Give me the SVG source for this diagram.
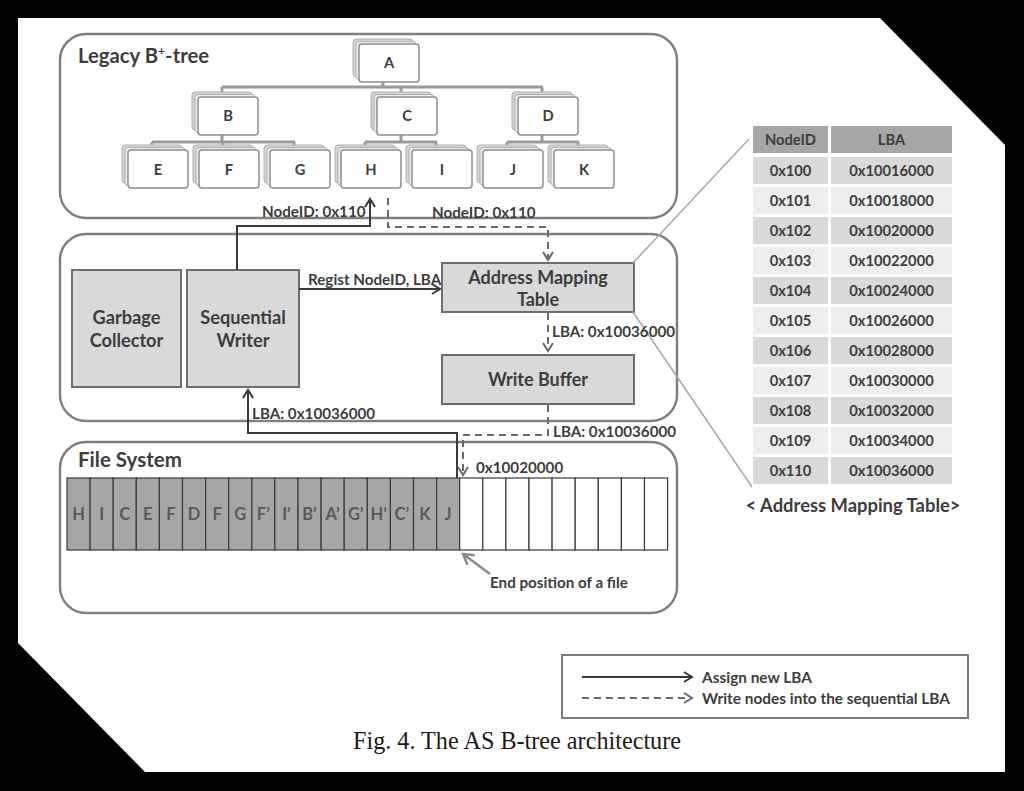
<svg xmlns="http://www.w3.org/2000/svg" width="1024" height="791" viewBox="0 0 1024 791">
<defs>
<style>
.t{font-family:Lato,"Liberation Sans",sans-serif;font-weight:bold;fill:#3d3d3d}
.panel{fill:none;stroke:#7f7f7f;stroke-width:2.5}
.box{fill:#d9d9d9;stroke:#6e6e6e;stroke-width:2}
.solid{fill:none;stroke:#3a3a3a;stroke-width:2}
.dash{fill:none;stroke:#6a6a6a;stroke-width:2;stroke-dasharray:7 5}
.tree{fill:none;stroke:#9a9a9a;stroke-width:3}
.cellg{fill:#a6a6a6;stroke:#3a3a3a;stroke-width:1.2}
.cellw{fill:#fff;stroke:#3a3a3a;stroke-width:1.2}
.ct{font-family:Lato,"Liberation Sans",sans-serif;font-weight:bold;font-size:16.5px;fill:#5a5a5a;text-anchor:middle}
.th{fill:#a6a6a6}
.rd{fill:#d9d9d9}
.rl{fill:#ededed}
.tt{font-family:Lato,"Liberation Sans",sans-serif;font-weight:bold;font-size:14.7px;fill:#3d3d3d;text-anchor:middle}
.lb{font-size:15.2px}
</style>
<marker id="ah" markerWidth="12" markerHeight="12" refX="10" refY="6" orient="auto" markerUnits="userSpaceOnUse">
<path d="M2,1 L10,6 L2,11" fill="none" stroke="#3a3a3a" stroke-width="2"/>
</marker>
<marker id="ahd" markerWidth="12" markerHeight="12" refX="10" refY="6" orient="auto" markerUnits="userSpaceOnUse">
<path d="M2,1 L10,6 L2,11" fill="none" stroke="#6a6a6a" stroke-width="2"/>
</marker>
<marker id="ahg" markerWidth="14" markerHeight="14" refX="12" refY="7" orient="auto" markerUnits="userSpaceOnUse">
<path d="M2,1 L12,7 L2,13" fill="none" stroke="#8a8a8a" stroke-width="2.5"/>
</marker>
<g id="card">
<rect x="-6" y="-5" width="60" height="38" rx="3" fill="#d4d4d4" stroke="#b0b0b0" stroke-width="1"/>
<rect x="-3" y="-2.5" width="60" height="38" rx="3" fill="#ececec" stroke="#b0b0b0" stroke-width="1"/>
<rect x="0" y="0" width="60" height="38" rx="3" fill="#fff" stroke="#8f8f8f" stroke-width="1.5"/>
</g>
</defs>

<rect x="0" y="0" width="1024" height="791" fill="#000"/>
<polygon points="18,18 880,18 1005,145 1005,772 145,772 18,643" fill="#fff"/>

<g id="panels">
<rect class="panel" x="60" y="34" width="617" height="184" rx="26"/>
<rect class="panel" x="60" y="234" width="617" height="187" rx="26"/>
<rect class="panel" x="60" y="442" width="617" height="171" rx="26"/>
<text class="t" x="78" y="63" font-size="20.3">Legacy B<tspan font-size="12" dy="-8">+</tspan><tspan dy="8">-tree</tspan></text>
<text class="t" x="78" y="467" font-size="20.5">File System</text>
</g>

<g id="tree-links">
<path class="tree" d="M383,80 V87 M222,87 H543 M222,87 V93 M401,87 V93 M542,87 V93"/>
<path class="tree" d="M222,133 V142 M152,142 H295 M152,142 V146 M223,142 V146 M294,142 V146"/>
<path class="tree" d="M401,133 V142 M365,142 H437 M365,142 V146 M436,142 V146"/>
<path class="tree" d="M542,133 V142 M507,142 H579 M507,142 V146 M578,142 V146"/>
</g>

<g id="node-A"><use href="#card" x="359" y="44"/><text class="tt" x="389" y="68">A</text></g>
<g id="node-B"><use href="#card" x="198" y="97"/><text class="tt" x="228" y="121">B</text></g>
<g id="node-C"><use href="#card" x="377" y="97"/><text class="tt" x="407" y="121">C</text></g>
<g id="node-D"><use href="#card" x="518" y="97"/><text class="tt" x="548" y="121">D</text></g>
<g id="node-E"><use href="#card" x="128" y="150"/><text class="tt" x="158" y="175">E</text></g>
<g id="node-F"><use href="#card" x="199" y="150"/><text class="tt" x="229" y="175">F</text></g>
<g id="node-G"><use href="#card" x="270" y="150"/><text class="tt" x="300" y="175">G</text></g>
<g id="node-H"><use href="#card" x="341" y="150"/><text class="tt" x="371" y="175">H</text></g>
<g id="node-I"><use href="#card" x="412" y="150"/><text class="tt" x="442" y="175">I</text></g>
<g id="node-J"><use href="#card" x="483" y="150"/><text class="tt" x="513" y="175">J</text></g>
<g id="node-K"><use href="#card" x="554" y="150"/><text class="tt" x="584" y="175">K</text></g>

<g id="garbage-collector">
<rect class="box" x="72" y="270" width="109" height="117"/>
<text class="t" x="126.5" y="324" font-size="18.2" text-anchor="middle">Garbage</text>
<text class="t" x="126.5" y="347" font-size="18.2" text-anchor="middle">Collector</text>
</g>
<g id="sequential-writer">
<rect class="box" x="187" y="270" width="112" height="117"/>
<text class="t" x="243" y="324" font-size="18.2" text-anchor="middle">Sequential</text>
<text class="t" x="243" y="347" font-size="18.2" text-anchor="middle">Writer</text>
</g>
<g id="address-mapping-table">
<rect class="box" x="442" y="263" width="192" height="49"/>
<text class="t" x="538" y="284" font-size="18" text-anchor="middle">Address Mapping</text>
<text class="t" x="538" y="306" font-size="18" text-anchor="middle">Table</text>
</g>
<g id="write-buffer">
<rect class="box" x="442" y="355" width="192" height="49"/>
<text class="t" x="538" y="386" font-size="18" text-anchor="middle">Write Buffer</text>
</g>

<g id="file-cells">
<rect class="cellg" x="67" y="478" width="23.1" height="72"/>
<rect class="cellg" x="90.1" y="478" width="23.1" height="72"/>
<rect class="cellg" x="113.2" y="478" width="23.1" height="72"/>
<rect class="cellg" x="136.3" y="478" width="23.1" height="72"/>
<rect class="cellg" x="159.4" y="478" width="23.1" height="72"/>
<rect class="cellg" x="182.5" y="478" width="23.1" height="72"/>
<rect class="cellg" x="205.6" y="478" width="23.1" height="72"/>
<rect class="cellg" x="228.7" y="478" width="23.1" height="72"/>
<rect class="cellg" x="251.8" y="478" width="23.1" height="72"/>
<rect class="cellg" x="274.9" y="478" width="23.1" height="72"/>
<rect class="cellg" x="298" y="478" width="23.1" height="72"/>
<rect class="cellg" x="321.1" y="478" width="23.1" height="72"/>
<rect class="cellg" x="344.2" y="478" width="23.1" height="72"/>
<rect class="cellg" x="367.3" y="478" width="23.1" height="72"/>
<rect class="cellg" x="390.4" y="478" width="23.1" height="72"/>
<rect class="cellg" x="413.5" y="478" width="23.1" height="72"/>
<rect class="cellg" x="436.6" y="478" width="23.1" height="72"/>
<rect class="cellw" x="459.7" y="478" width="23.1" height="72"/>
<rect class="cellw" x="482.8" y="478" width="23.1" height="72"/>
<rect class="cellw" x="505.9" y="478" width="23.1" height="72"/>
<rect class="cellw" x="529" y="478" width="23.1" height="72"/>
<rect class="cellw" x="552.1" y="478" width="23.1" height="72"/>
<rect class="cellw" x="575.2" y="478" width="23.1" height="72"/>
<rect class="cellw" x="598.3" y="478" width="23.1" height="72"/>
<rect class="cellw" x="621.4" y="478" width="23.1" height="72"/>
<rect class="cellw" x="644.5" y="478" width="23.1" height="72"/>
<text class="ct" x="78.5" y="520">H</text>
<text class="ct" x="101.6" y="520">I</text>
<text class="ct" x="124.7" y="520">C</text>
<text class="ct" x="147.8" y="520">E</text>
<text class="ct" x="170.9" y="520">F</text>
<text class="ct" x="194" y="520">D</text>
<text class="ct" x="217.1" y="520">F</text>
<text class="ct" x="240.2" y="520">G</text>
<text class="ct" x="263.3" y="520">F’</text>
<text class="ct" x="286.4" y="520">I’</text>
<text class="ct" x="309.5" y="520">B’</text>
<text class="ct" x="332.6" y="520">A’</text>
<text class="ct" x="355.7" y="520">G’</text>
<text class="ct" x="378.8" y="520">H’</text>
<text class="ct" x="401.9" y="520">C’</text>
<text class="ct" x="425" y="520">K</text>
<text class="ct" x="448.1" y="520">J</text>
</g>

<g id="connectors">
<path class="solid" d="M237,270 V226 H370 V199" marker-end="url(#ah)"/>
<path class="dash" d="M388,198 V227 H548 V260" marker-end="url(#ahd)"/>
<path class="solid" d="M299,289 H440" marker-end="url(#ah)"/>
<path class="dash" d="M548,313 V351" stroke-dasharray="5 4" marker-end="url(#ahd)"/>
<path class="dash" d="M548,405 V435 H463 V475" marker-end="url(#ahd)"/>
<path class="solid" d="M457,478 V433 H248 V390" marker-end="url(#ah)"/>
<path d="M490,574 L463,554" fill="none" stroke="#8a8a8a" stroke-width="2.5" marker-end="url(#ahg)"/>
<line x1="633" y1="263" x2="749" y2="139" stroke="#a8a8a8" stroke-width="1.5"/>
<line x1="633" y1="312" x2="752" y2="487" stroke="#a8a8a8" stroke-width="1.5"/>
</g>

<g id="labels">
<text class="t lb" x="262" y="217">NodeID: 0x110</text>
<text class="t lb" x="432" y="218">NodeID: 0x110</text>
<text class="t lb" x="308" y="285">Regist NodeID, LBA</text>
<text class="t lb" x="552" y="337">LBA: 0x10036000</text>
<text class="t lb" x="252" y="419">LBA: 0x10036000</text>
<text class="t lb" x="553" y="437">LBA: 0x10036000</text>
<text class="t lb" x="476" y="473">0x10020000</text>
<text class="t lb" x="490" y="588">End position of a file</text>
</g>

<g id="mapping-table">
<rect class="th" x="753" y="126" width="75" height="27"/>
<rect class="th" x="831" y="126" width="121" height="27"/>
<text class="tt" x="790.5" y="145">NodeID</text>
<text class="tt" x="891.5" y="145">LBA</text>
<g>
<rect class="rd" x="753" y="157" width="75" height="27"/><rect class="rd" x="831" y="157" width="121" height="27"/>
<text class="tt" x="790.5" y="176">0x100</text><text class="tt" x="891.5" y="176">0x10016000</text>
<rect class="rl" x="753" y="187" width="75" height="27"/><rect class="rl" x="831" y="187" width="121" height="27"/>
<text class="tt" x="790.5" y="206">0x101</text><text class="tt" x="891.5" y="206">0x10018000</text>
<rect class="rd" x="753" y="217" width="75" height="27"/><rect class="rd" x="831" y="217" width="121" height="27"/>
<text class="tt" x="790.5" y="236">0x102</text><text class="tt" x="891.5" y="236">0x10020000</text>
<rect class="rl" x="753" y="247" width="75" height="27"/><rect class="rl" x="831" y="247" width="121" height="27"/>
<text class="tt" x="790.5" y="266">0x103</text><text class="tt" x="891.5" y="266">0x10022000</text>
<rect class="rd" x="753" y="277" width="75" height="27"/><rect class="rd" x="831" y="277" width="121" height="27"/>
<text class="tt" x="790.5" y="296">0x104</text><text class="tt" x="891.5" y="296">0x10024000</text>
<rect class="rl" x="753" y="307" width="75" height="27"/><rect class="rl" x="831" y="307" width="121" height="27"/>
<text class="tt" x="790.5" y="326">0x105</text><text class="tt" x="891.5" y="326">0x10026000</text>
<rect class="rd" x="753" y="337" width="75" height="27"/><rect class="rd" x="831" y="337" width="121" height="27"/>
<text class="tt" x="790.5" y="356">0x106</text><text class="tt" x="891.5" y="356">0x10028000</text>
<rect class="rl" x="753" y="367" width="75" height="27"/><rect class="rl" x="831" y="367" width="121" height="27"/>
<text class="tt" x="790.5" y="386">0x107</text><text class="tt" x="891.5" y="386">0x10030000</text>
<rect class="rd" x="753" y="397" width="75" height="27"/><rect class="rd" x="831" y="397" width="121" height="27"/>
<text class="tt" x="790.5" y="416">0x108</text><text class="tt" x="891.5" y="416">0x10032000</text>
<rect class="rl" x="753" y="427" width="75" height="27"/><rect class="rl" x="831" y="427" width="121" height="27"/>
<text class="tt" x="790.5" y="446">0x109</text><text class="tt" x="891.5" y="446">0x10034000</text>
<rect class="rd" x="753" y="457" width="75" height="27"/><rect class="rd" x="831" y="457" width="121" height="27"/>
<text class="tt" x="790.5" y="476">0x110</text><text class="tt" x="891.5" y="476">0x10036000</text>
</g>
<text class="t" x="853" y="512" font-size="18.4" text-anchor="middle">&lt; Address Mapping Table&gt;</text>
</g>

<g id="legend">
<rect x="562" y="655" width="406" height="63" fill="#fff" stroke="#7a7a7a" stroke-width="2"/>
<line x1="582" y1="677" x2="692" y2="677" class="solid" marker-end="url(#ah)"/>
<line x1="582" y1="698" x2="692" y2="698" class="dash" stroke-dasharray="5 3" marker-end="url(#ahd)"/>
<text class="t" x="702" y="683" font-size="15.4">Assign new LBA</text>
<text class="t" x="702" y="704" font-size="15.4">Write nodes into the sequential LBA</text>
</g>

<text x="517" y="749" font-family="'Liberation Serif',serif" font-size="24.2" fill="#1a1a1a" text-anchor="middle">Fig. 4. The AS B-tree architecture</text>
</svg>
